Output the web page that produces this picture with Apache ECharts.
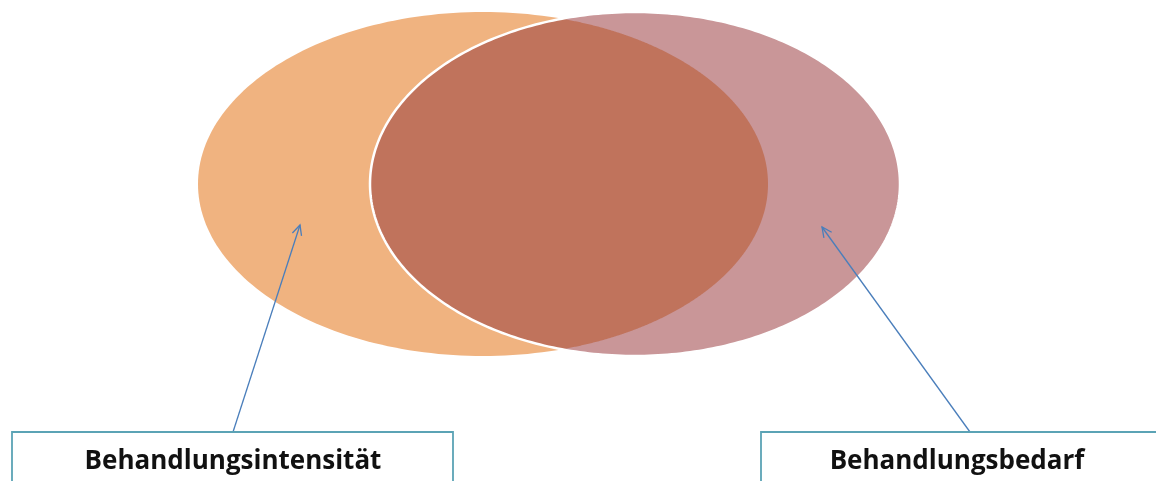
<!DOCTYPE html>
<html>
<head>
<meta charset="utf-8">
<script src="https://cdn.jsdelivr.net/npm/echarts@6/dist/echarts.min.js"></script>
<style>
    html, body { margin: 0; padding: 0; background: #fff; }
    #container { width: 1156px; height: 481px; }
</style>
</head>
<body>
<div id="container"></div>
<script type="text/javascript">
    // two sets of the diagram
    var setNames = ['Behandlungsintensität', 'Behandlungsbedarf'];
    var setColors = ['#F0B380', '#C99698'];
    var overlapColor = '#C0735C';
    // ellipses: centre and radii, in chart units
    var ellipseCx = [483, 635];
    var ellipseCy = [184, 184];
    var ellipseRx = [285, 265];
    var ellipseRy = [172, 172];
    // arrows: from label box to ellipse
    var arrowFrom = [[233, 432], [970, 432]];
    var arrowTo = [[300, 225], [822, 227]];
    // label boxes
    var boxLeft = [12, 761];
    var boxRight = [453, 1175];
    var boxTop = [432, 432];
    var labelX = [233, 957];
    var labelY = [462, 462];

    var dom = document.getElementById("container");
    var myChart = echarts.init(dom);

    function ellipsePoint(i, t) {
        return [ellipseCx[i] + ellipseRx[i] * Math.cos(t), ellipseCy[i] + ellipseRy[i] * Math.sin(t)];
    }
    function inside(i, p) {
        var dx = (p[0] - ellipseCx[i]) / ellipseRx[i];
        var dy = (p[1] - ellipseCy[i]) / ellipseRy[i];
        return dx * dx + dy * dy <= 1;
    }

    var option = {
        animation: false,
        grid: {left: 0, right: 0, top: 0, bottom: 0},
        xAxis: {type: 'value', min: 0, max: 1156, show: false},
        yAxis: {type: 'value', min: 0, max: 481, inverse: true, show: false},
        series: [
            {
                // ellipses
                type: 'custom',
                z: 1,
                data: setNames.map(function (n, i) { return [i]; }),
                renderItem: function (params, api) {
                    var i = api.value(0);
                    var pts = [];
                    for (var k = 0; k < 240; k++) {
                        pts.push(api.coord(ellipsePoint(i, k / 240 * Math.PI * 2)));
                    }
                    return {type: 'polygon', shape: {points: pts}, style: {fill: setColors[i]}};
                }
            },
            {
                // overlap region
                type: 'custom',
                z: 2,
                data: [[0]],
                renderItem: function (params, api) {
                    var pts = [];
                    var n = 720, k, p;
                    for (k = 0; k <= n; k++) {
                        p = ellipsePoint(1, Math.PI / 2 + k / n * Math.PI);
                        if (inside(0, p)) pts.push(api.coord(p));
                    }
                    for (k = 0; k <= n; k++) {
                        p = ellipsePoint(0, -Math.PI / 2 + k / n * Math.PI);
                        if (inside(1, p)) pts.push(api.coord(p));
                    }
                    return {type: 'polygon', shape: {points: pts}, style: {fill: overlapColor}};
                }
            },
            {
                // white outline of the second ellipse
                type: 'custom',
                z: 3,
                data: [[1]],
                renderItem: function (params, api) {
                    var i = api.value(0);
                    var pts = [];
                    for (var k = 0; k < 360; k++) {
                        pts.push(api.coord(ellipsePoint(i, k / 360 * Math.PI * 2)));
                    }
                    return {type: 'polygon', shape: {points: pts}, style: {fill: 'none', stroke: '#fff', lineWidth: 2.5}};
                }
            },
            {
                // arrows
                type: 'custom',
                z: 4,
                data: setNames.map(function (n, i) { return [i]; }),
                renderItem: function (params, api) {
                    var i = api.value(0);
                    var a = api.coord(arrowFrom[i]);
                    var b = api.coord(arrowTo[i]);
                    var ang = Math.atan2(b[1] - a[1], b[0] - a[0]);
                    var len = 11, spread = 0.45;
                    var h1 = [b[0] - len * Math.cos(ang - spread), b[1] - len * Math.sin(ang - spread)];
                    var h2 = [b[0] - len * Math.cos(ang + spread), b[1] - len * Math.sin(ang + spread)];
                    var st = {stroke: '#4A7EBB', lineWidth: 1.3, fill: 'none'};
                    return {
                        type: 'group',
                        children: [
                            {type: 'line', shape: {x1: a[0], y1: a[1], x2: b[0], y2: b[1]}, style: st},
                            {type: 'polyline', shape: {points: [h1, b, h2]}, style: st}
                        ]
                    };
                }
            },
            {
                // label boxes
                type: 'custom',
                z: 5,
                data: setNames.map(function (n, i) { return [i]; }),
                renderItem: function (params, api) {
                    var i = api.value(0);
                    var tl = api.coord([boxLeft[i], boxTop[i]]);
                    var br = api.coord([boxRight[i], 500]);
                    var c = api.coord([labelX[i], labelY[i]]);
                    return {
                        type: 'group',
                        children: [
                            {
                                type: 'rect',
                                shape: {x: tl[0], y: tl[1], width: br[0] - tl[0], height: br[1] - tl[1]},
                                style: {fill: '#fff', stroke: '#5BA3B5', lineWidth: 1.8}
                            },
                            {
                                type: 'text',
                                x: c[0], y: c[1],
                                style: {
                                    text: setNames[i],
                                    fill: '#111',
                                    font: 'bold 26px "Open Sans", sans-serif',
                                    align: 'center',
                                    verticalAlign: 'middle'
                                }
                            }
                        ]
                    };
                }
            }
        ]
    };
    myChart.setOption(option, true);
</script>
</body>
</html>
